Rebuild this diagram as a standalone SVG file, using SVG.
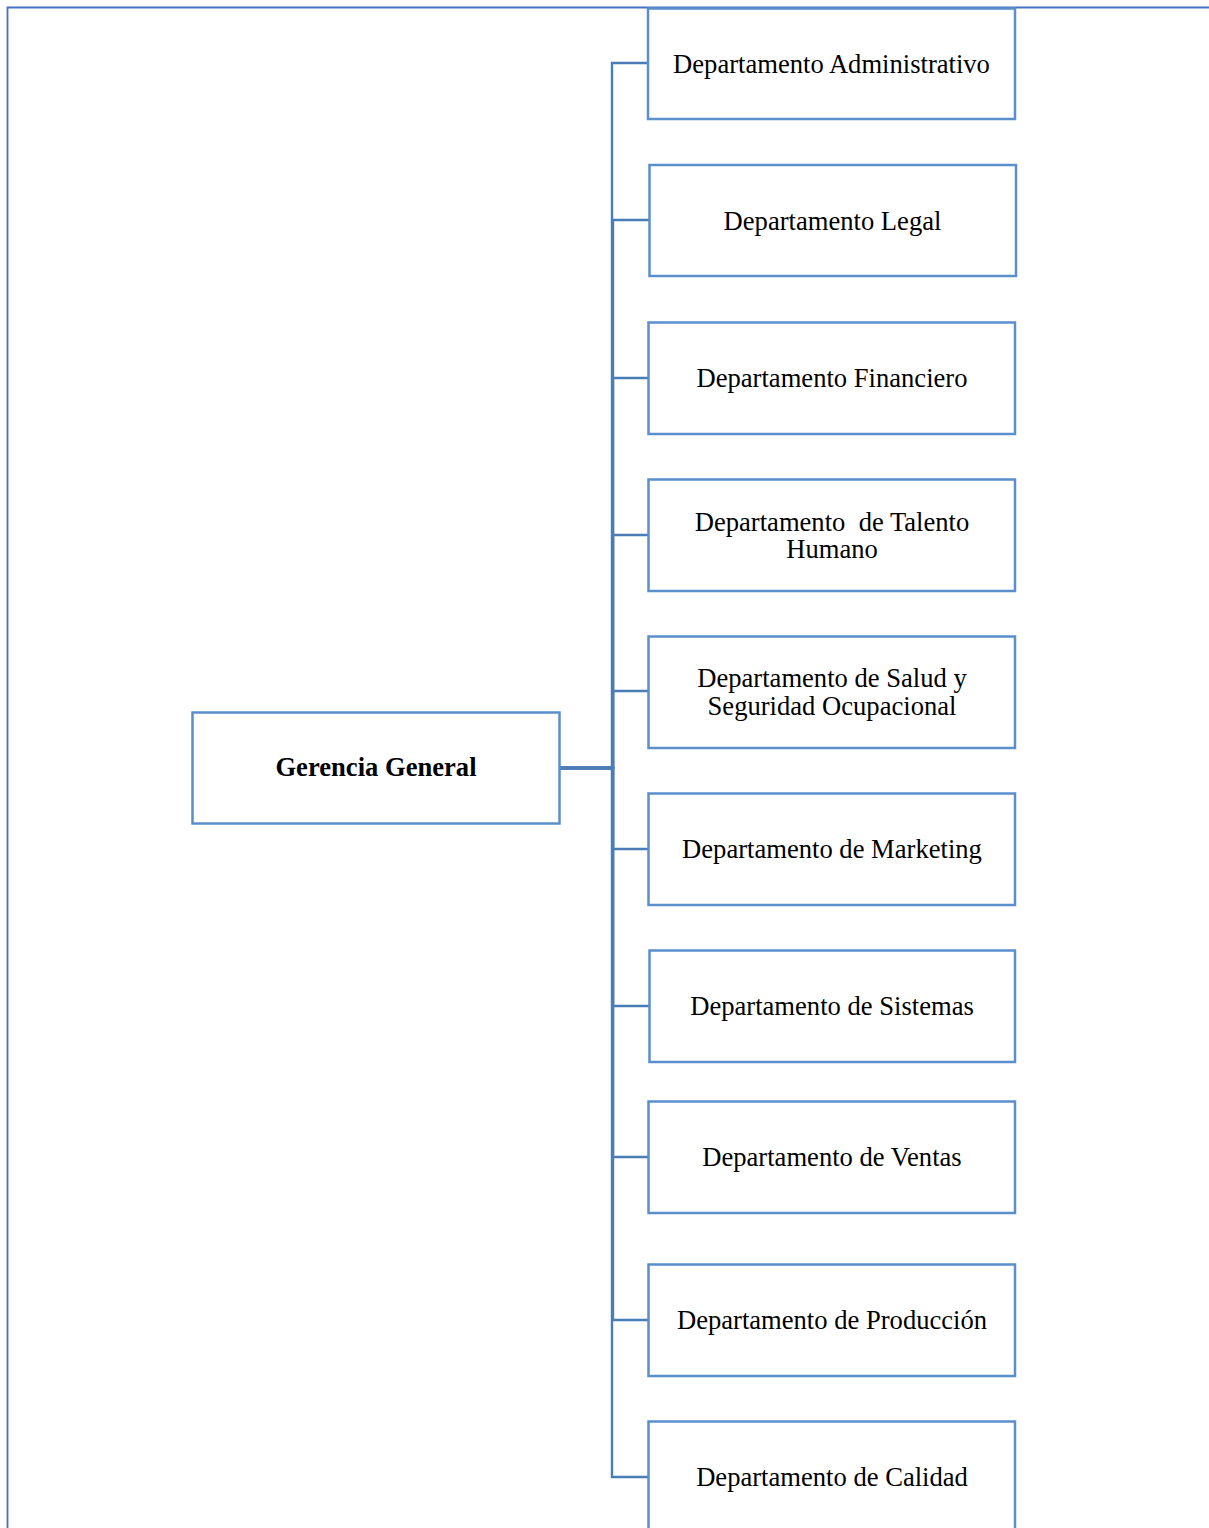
<svg xmlns="http://www.w3.org/2000/svg" width="1209" height="1528" viewBox="0 0 1209 1528">
<style>
.box{fill:#fff;stroke:#5A8FCB;stroke-width:2.5}
.lbl{font-family:"Liberation Serif","Times New Roman",serif;font-size:26.6px;fill:#000;text-anchor:middle}
.b{font-weight:bold}
.con{fill:none;stroke:#4A7DB6;stroke-width:2.4}
</style>
<rect width="1209" height="1528" fill="#fff"/>
<path d="M7.5 1528 V7.5 H1209" fill="none" stroke="#4472C4" stroke-width="1.8"/>
<g id="connectors">
<path class="con" d="M560 768 H612 V63 H648"/>
<path class="con" d="M560 768 H613 V220 H649"/>
<path class="con" d="M560 768 H613 V378 H648"/>
<path class="con" d="M560 768 H613 V535 H648"/>
<path class="con" d="M560 768 H613 V691 H648"/>
<path class="con" d="M560 768 H613 V849 H648"/>
<path class="con" d="M560 768 H613 V1006 H649"/>
<path class="con" d="M560 768 H613 V1157 H648"/>
<path class="con" d="M560 768 H613 V1320 H648"/>
<path class="con" d="M560 768 H612 V1477 H648"/>
</g>
<g id="gerencia">
<rect class="box" x="192.5" y="712.5" width="367" height="111"/>
<text class="lbl b" x="376" y="776">Gerencia General</text>
</g>
<g id="administrativo">
<rect class="box" x="648" y="8.5" width="367" height="110.5"/>
<text class="lbl" x="831.5" y="72.5">Departamento Administrativo</text>
</g>
<g id="legal">
<rect class="box" x="649.5" y="165" width="366.5" height="111"/>
<text class="lbl" x="832.5" y="229.5">Departamento Legal</text>
</g>
<g id="financiero">
<rect class="box" x="648.5" y="322.5" width="366.5" height="111.5"/>
<text class="lbl" x="832" y="387">Departamento Financiero</text>
</g>
<g id="talento">
<rect class="box" x="648.5" y="479.5" width="366.5" height="111.5"/>
<text class="lbl" x="832" y="531" xml:space="preserve">Departamento  de Talento</text>
<text class="lbl" x="832" y="558">Humano</text>
</g>
<g id="salud">
<rect class="box" x="648.5" y="636.5" width="366.5" height="111.5"/>
<text class="lbl" x="832" y="687">Departamento de Salud y</text>
<text class="lbl" x="832" y="715">Seguridad Ocupacional</text>
</g>
<g id="marketing">
<rect class="box" x="648.5" y="793.5" width="366.5" height="111.5"/>
<text class="lbl" x="832" y="858">Departamento de Marketing</text>
</g>
<g id="sistemas">
<rect class="box" x="649.5" y="950.5" width="365.5" height="111.5"/>
<text class="lbl" x="832" y="1015">Departamento de Sistemas</text>
</g>
<g id="ventas">
<rect class="box" x="648.5" y="1101.5" width="366.5" height="111.5"/>
<text class="lbl" x="832" y="1166">Departamento de Ventas</text>
</g>
<g id="produccion">
<rect class="box" x="648.5" y="1264.5" width="366.5" height="111.5"/>
<text class="lbl" x="832" y="1329">Departamento de Producción</text>
</g>
<g id="calidad">
<rect class="box" x="648.5" y="1421.5" width="366.5" height="115"/>
<text class="lbl" x="832" y="1485.5">Departamento de Calidad</text>
</g>
</svg>
